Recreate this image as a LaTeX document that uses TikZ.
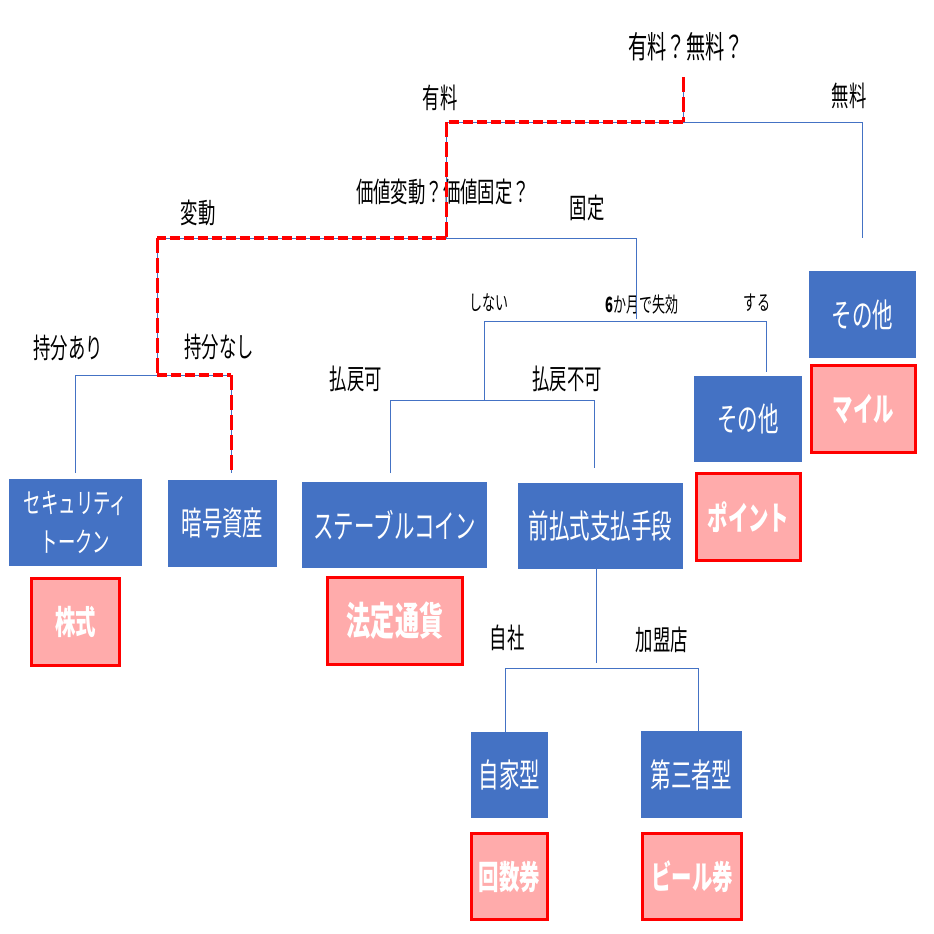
\documentclass[tikz,border=0pt]{standalone}
\usepackage{fontspec}
\setmainfont{Noto Sans CJK JP}[FakeStretch=0.62]
\definecolor{boxblue}{HTML}{4472C4}
\definecolor{boxpink}{HTML}{FFABAB}
\definecolor{lineblue}{HTML}{4472C4}
\tikzset{
  blbox/.style={fill=boxblue, text=white, inner sep=0pt, align=center,
    font=\fontsize{33}{36}\selectfont},
  pkbox/.style={fill=boxpink, draw=red, line width=3pt, text=white, inner sep=0pt,
    font=\fontsize{33}{36}\selectfont\bfseries},
  lab/.style={inner sep=0pt, font=\fontsize{28}{30}\selectfont},
  smlab/.style={inner sep=0pt, font=\fontsize{21}{23}\selectfont},
  tree/.style={draw=lineblue, line width=1pt},
  redh/.style={draw=red, line width=4.5pt, dash pattern=on 10pt off 4pt},
  redv/.style={draw=red, line width=3pt, dash pattern=on 15pt off 5pt},
}

\begin{document}
\begin{tikzpicture}[x=1pt,y=-1pt]
  \useasboundingbox (0,0) rectangle (934,934);

  % labels
  \node (q1) [lab, font=\fontsize{31}{33}\selectfont] at (686,47) {有料？無料？};
  \node (yuryo) [lab] at (440,98) {有料};
  \node (muryo) [lab] at (849,96) {無料};
  \node (q2) [lab] at (443,192) {価値変動？価値固定？};
  \node (kotei) [lab] at (587,208) {固定};
  \node (hendo) [lab] at (198,213) {変動};
  \node (ari) [lab] at (68,348) {持分あり};
  \node (nashi) [lab] at (219,347) {持分なし};
  \node (shinai) [smlab] at (489,303) {しない};
  \node (q3) [smlab] at (642,305) {\textbf{6}か月で失効};
  \node (suru) [smlab] at (757,303) {する};
  \node (harai) [lab] at (356,379) {払戻可};
  \node (fuka) [lab] at (567,379) {払戻不可};
  \node (jisha) [lab] at (507,638) {自社};
  \node (kamei) [lab] at (662,640) {加盟店};

  % blue boxes
  \node (sectok) [blbox, minimum width=133pt, minimum height=87pt, font=\fontsize{28}{39}\selectfont]
    at (75.5,522.5) {セキュリティ\\トークン};
  \node (angou) [blbox, minimum width=109pt, minimum height=87pt] at (222.5,523.5) {暗号資産};
  \node (stable) [blbox, minimum width=185pt, minimum height=86pt] at (394.5,525) {ステーブルコイン};
  \node (maebarai) [blbox, minimum width=165pt, minimum height=86pt] at (600.5,526) {前払式支払手段};
  \node (sonota1) [blbox, minimum width=108pt, minimum height=86pt] at (748,419) {その他};
  \node (sonota2) [blbox, minimum width=107pt, minimum height=87pt] at (862.5,314.5) {その他};
  \node (jika) [blbox, minimum width=77pt, minimum height=86pt] at (509.5,775) {自家型};
  \node (daisan) [blbox, minimum width=101pt, minimum height=87pt] at (691.5,774.5) {第三者型};

  % pink boxes
  \node (kabu) [pkbox, minimum width=88pt, minimum height=87pt] at (75.5,622) {株式};
  \node (hotei) [pkbox, minimum width=135pt, minimum height=87pt, font=\fontsize{39}{42}\selectfont\bfseries]
    at (395,621) {法定通貨};
  \node (point) [pkbox, minimum width=104pt, minimum height=87pt] at (748.5,517) {ポイント};
  \node (mile) [pkbox, minimum width=104pt, minimum height=87pt] at (863.5,409) {マイル};
  \node (kaisu) [pkbox, minimum width=76pt, minimum height=86pt] at (509.5,876.5) {回数券};
  \node (beer) [pkbox, minimum width=99pt, minimum height=86pt] at (692,876.5) {ビール券};

  % tree
  \coordinate (t0) at (683,77);
  \coordinate (t1) at (683,122);
  \coordinate (t1l) at (446,122);
  \coordinate (t1r) at (862,122);
  \coordinate (t1re) at (862,238);
  \coordinate (t2) at (446,238);
  \coordinate (t2l) at (157,238);
  \coordinate (t2r) at (636,238);
  \coordinate (t2re) at (636,319);
  \coordinate (t3) at (157,375);
  \coordinate (t3l) at (75,375);
  \coordinate (t3r) at (231,375);
  \coordinate (t3le) at (75,473);
  \coordinate (t3re) at (231,473);
  \coordinate (t4l) at (484,321);
  \coordinate (t4r) at (766,321);
  \coordinate (t4le) at (484,400);
  \coordinate (t4re) at (766,372);
  \coordinate (t5l) at (390,400);
  \coordinate (t5r) at (594,400);
  \coordinate (t5le) at (390,473);
  \coordinate (t5re) at (594,468);
  \coordinate (t6) at (596,569);
  \coordinate (t6e) at (596,663);
  \coordinate (t6l) at (505,668);
  \coordinate (t6r) at (698,668);
  \coordinate (t6le) at (505,732);
  \coordinate (t6re) at (698,731);

  \draw[tree] (t0) -- (t1);
  \draw[tree] (t1l) -- (t1r) -- (t1re);
  \draw[tree] (t1l) -- (t2);
  \draw[tree] (t2l) -- (t2r) -- (t2re);
  \draw[tree] (t2l) -- (t3);
  \draw[tree] (t3le) -- (t3l) -- (t3r) -- (t3re);
  \draw[tree] (t4le) -- (t4l) -- (t4r) -- (t4re);
  \draw[tree] (t5le) -- (t5l) -- (t5r) -- (t5re);
  \draw[tree] (t6) -- (t6e);
  \draw[tree] (t6le) -- (t6l) -- (t6r) -- (t6re);

  % chosen route
  \draw[redv] (t0) -- (t1);
  \draw[redh] (t1) -- (t1l);
  \draw[redv] (t1l) -- (t2);
  \draw[redh] (t2) -- (t2l);
  \draw[redv] (t2l) -- (t3);
  \draw[redh] (t3) -- (t3r);
  \draw[redv] (t3r) -- (t3re);
\end{tikzpicture}
\end{document}
